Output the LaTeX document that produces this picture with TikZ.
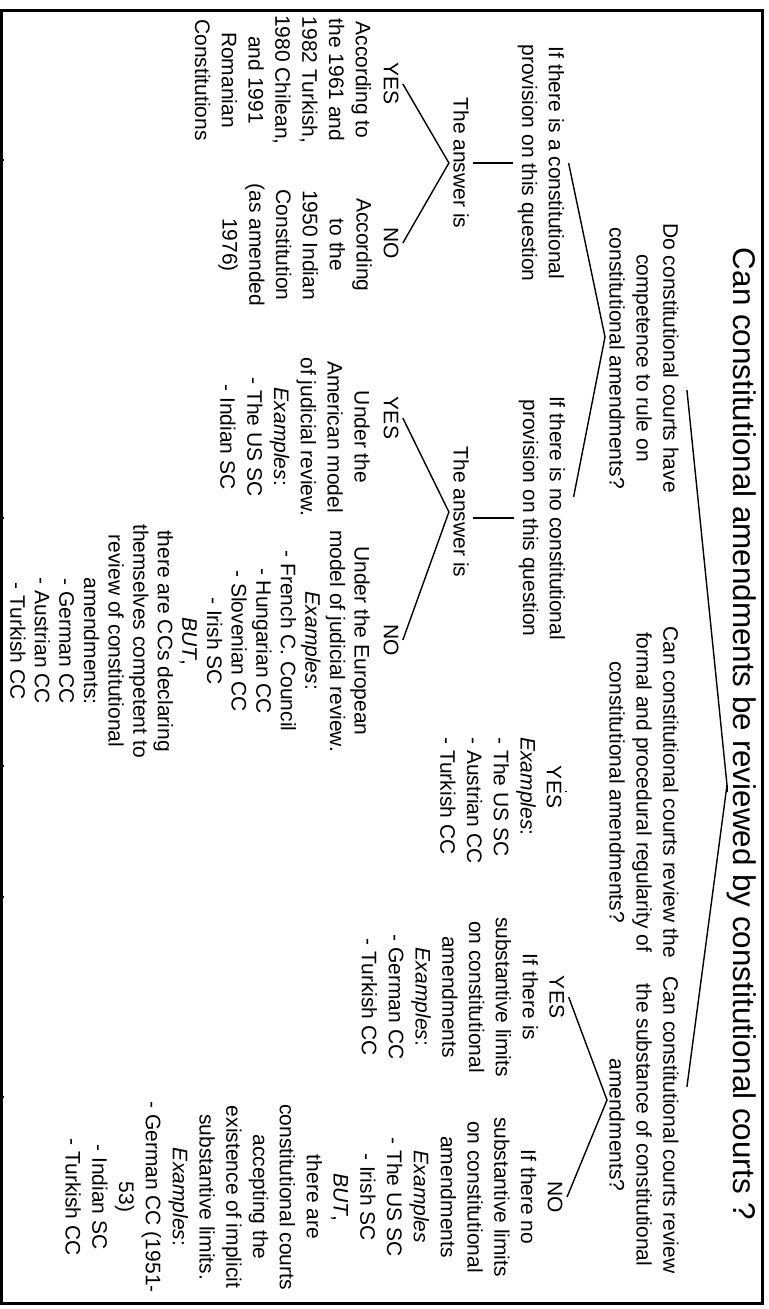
\documentclass[tikz,border=0pt]{standalone}
\usepackage{fontspec}
\setmainfont{Liberation Sans}
\usetikzlibrary{calc}

\begin{document}
\begin{tikzpicture}[
        x=0.5pt, y=0.5pt,
        plain/.style={align=center, inner sep=2pt, font=\fontsize{10.5}{13.4}\selectfont},
        tight/.style={align=center, inner sep=2pt, font=\fontsize{10.5}{12.3}\selectfont},
        list/.style={align=left, inner sep=2pt, font=\fontsize{10.5}{13.4}\selectfont},
        big/.style={inner sep=2pt, font=\fontsize{15.7}{20}\selectfont},
        link/.style={line width=0.7pt}
    ]
    \useasboundingbox (0,0) rectangle (768,-1309);

    % frame
    \draw[line width=1.5pt] (1.3,-11) rectangle (762.5,-1303.5);
    \foreach \t in {160,518,766,897,1097}
        \draw[line width=0.6pt] (0,-\t) -- (4,-\t);

    % landscape page, turned clockwise
    \begin{scope}[rotate=-90, transform shape]
    \node[big] (title) at (734,742) {Can constitutional amendments be reviewed by constitutional courts ?};

    % three questions
    \node[plain] (q1) at (358,644) {Do constitutional courts have\\competence to rule on\\constitutional amendments?};
    \node[plain] (q2) at (792,644) {Can constitutional courts review the\\formal and procedural regularity of\\constitutional amendments?};
    \node[plain] (q3) at (1125,644) {Can constitutional courts review\\the substance of constitutional\\amendments?};
    \coordinate (fork) at (785,727);
    \draw[link] ($(q1.north)+(32,4)$) -- (fork) -- ($(q3.north)+(-38,4)$);
    \draw[link] (fork) -- (q2.north |- fork);

    % first question
    \node[plain] (subA) at (163,541) {If there is a constitutional\\provision on this question};
    \node[plain] (subB) at (518,542) {If there is no constitutional\\provision on this question};
    \coordinate (fork1) at (337,605);
    \draw[link] (subA.north) -- (fork1) -- ($(subB.north)+(-21,4)$);

    \node[plain] (ansA) at (163,461) {The answer is};
    \node[plain] (yesA) at (84,391) {YES};
    \node[plain] (noA) at (243,391) {NO};
    \draw[link] (subA.south) -- (subA.south |- ansA.north);
    \draw[link] (yesA.north) -- (ansA.south) -- (noA.north);
    \node[plain] (yesAtxt) at (80,283) {According to\\the 1961 and\\1982 Turkish,\\1980 Chilean,\\and 1991\\Romanian\\Constitutions};
    \node[plain] (noAtxt) at (245,295) {According\\to the\\1950 Indian\\Constitution\\(as amended\\1976)};

    \node[plain] (ansB) at (512,461) {The answer is};
    \node[plain] (yesB) at (418,391) {YES};
    \node[plain] (noB) at (640,391) {NO};
    \draw[link] (subB.south |- ansB.north) -- (subB.south);
    \draw[link] (yesB.north) -- (ansB.south) -- (noB.north);
    \node[plain] (yesBtxt) at (437,295) {Under the\\American model\\of judicial review.\\\textit{Examples}:\\- The US SC\\- Indian SC};
    \node[tight] (noBtxt) at (641,190) {Under the European\\model of judicial review.\\\textit{Examples}:\\- French C. Council\\- Hungarian CC\\- Slovenian CC\\- Irish SC\\\textit{BUT},\\there are CCs declaring\\themselves competent to\\review of constitutional\\amendments:\\- German CC\\- Austrian CC\\- Turkish CC};

    % second question
    \node[plain] (yesC) at (787,554) {YES};
    \draw[link, shorten <=2pt] (yesC.north) -- (q2.south |- yesC.north);
    \node[list, anchor=west] (yesCtxt) at (733,488) {\textit{Examples}:\\- The US SC\\- Austrian CC\\- Turkish CC};

    % third question
    \node[plain] (yesD) at (997,463) {YES\\If there is\\substantive limits\\on constitutional\\amendments\\\textit{Examples}:\\- German CC\\- Turkish CC};
    \node[plain] (noD) at (1197,314) {NO\\If there no\\substantive limits\\on constitutional\\amendments\\\textit{Examples}\\- The US SC\\- Irish SC\\\textit{BUT},\\there are\\constitutional courts\\accepting the\\existence of implicit\\substantive limits.\\\textit{Examples}:\\- German CC (1951-\\53)\\- Indian SC\\- Turkish CC};
    \coordinate (fork3) at (1100,607);
    \draw[link] (yesD.north) -- (fork3) -- (noD.north);
    \end{scope}
\end{tikzpicture}
\end{document}
